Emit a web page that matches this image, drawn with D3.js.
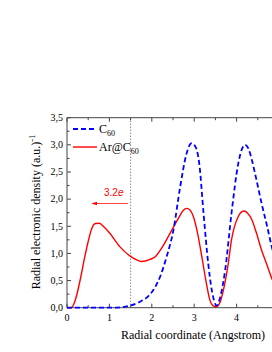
<!DOCTYPE html>
<html>
<head>
<meta charset="utf-8">
<script src="https://cdn.jsdelivr.net/npm/d3@7"></script>
<style>
  body { margin: 0; background: #fff; }
  svg { display: block; }
</style>
</head>
<body>
<div id="chart"></div>
<script>
// values
var c60X = [0, 0.5, 1.0, 1.3, 1.5, 1.72, 1.9, 2.04, 2.2, 2.35, 2.51, 2.67, 2.82, 2.94, 3.04, 3.12, 3.22, 3.33, 3.42, 3.53, 3.63, 3.73, 3.88, 4.04, 4.13, 4.2, 4.28, 4.36, 4.47, 4.59, 4.72, 4.83, 4.95];
var c60Y = [0, 0, 0, 0.01, 0.04, 0.11, 0.2, 0.33, 0.58, 0.94, 1.43, 2.23, 2.84, 3.03, 2.95, 2.65, 1.74, 0.82, 0.3, 0.04, 0.25, 0.69, 1.74, 2.66, 2.93, 3.0, 2.93, 2.72, 2.35, 1.92, 1.5, 1.12, 0.8];
var arX = [0, 0.1, 0.2, 0.31, 0.42, 0.5, 0.58, 0.67, 0.76, 0.88, 1.01, 1.25, 1.49, 1.62, 1.76, 1.96, 2.08, 2.25, 2.43, 2.63, 2.74, 2.82, 2.9, 2.98, 3.08, 3.18, 3.28, 3.37, 3.44, 3.53, 3.61, 3.69, 3.8, 3.88, 4.04, 4.11, 4.18, 4.26, 4.36, 4.47, 4.59, 4.72, 4.83, 4.95];
var arY = [0, 0.0, 0.15, 0.51, 0.94, 1.22, 1.45, 1.55, 1.555, 1.48, 1.37, 1.12, 0.95, 0.89, 0.85, 0.89, 0.94, 1.12, 1.37, 1.65, 1.79, 1.83, 1.8, 1.68, 1.37, 0.94, 0.48, 0.14, 0.04, 0.02, 0.1, 0.33, 0.8, 1.25, 1.68, 1.76, 1.78, 1.74, 1.62, 1.37, 1.06, 0.78, 0.54, 0.36];
var xTicks = [0, 1, 2, 3, 4];
var yTicks = [0, 0.5, 1, 1.5, 2, 2.5, 3, 3.5];
var seriesNames = ["C", "Ar@C"];
var markerX = 1.5;

var width = 272, height = 352;
var SERIF = "'Liberation Serif'";

var svg = d3.select('#chart').append('svg')
    .attr('width', width)
    .attr('height', height);

var x = d3.scaleLinear().domain([0, 5]).range([67, 279]);
var y = d3.scaleLinear().domain([0, 3.5]).range([307.7, 117.7]);

var axisColor = "#444";

// frame (top + left + bottom)
svg.append('line').attr('x1', x(0)).attr('x2', x(5)).attr('y1', y(0)).attr('y2', y(0))
    .attr('stroke', axisColor).attr('stroke-width', 1);
svg.append('line').attr('x1', x(0)).attr('x2', x(5)).attr('y1', y(3.5)).attr('y2', y(3.5))
    .attr('stroke', axisColor).attr('stroke-width', 1);
svg.append('line').attr('x1', x(0)).attr('x2', x(0)).attr('y1', y(0)).attr('y2', y(3.5))
    .attr('stroke', axisColor).attr('stroke-width', 1);

// x ticks, inward, bottom and top
var xMinor = d3.range(0, 5.01, 0.5);
xMinor.forEach(function(v) {
    var len = (v % 1 === 0) ? 4 : 2.5;
    svg.append('line').attr('x1', x(v)).attr('x2', x(v)).attr('y1', y(0)).attr('y2', y(0) - len)
        .attr('stroke', axisColor);
    svg.append('line').attr('x1', x(v)).attr('x2', x(v)).attr('y1', y(3.5)).attr('y2', y(3.5) + len)
        .attr('stroke', axisColor);
});
svg.selectAll('.xlab')
    .data(xTicks)
    .enter().append('text')
    .attr('x', function(d) { return x(d); })
    .attr('y', 321)
    .attr('text-anchor', 'middle')
    .style('font-family', SERIF)
    .style('font-size', '10px')
    .text(function(d) { return d; });

// y ticks
var yMinor = d3.range(0, 3.51, 0.25);
yMinor.forEach(function(v) {
    var len = (Math.abs(v * 2 - Math.round(v * 2)) < 1e-6) ? 4 : 2.5;
    svg.append('line').attr('x1', x(0)).attr('x2', x(0) + len).attr('y1', y(v)).attr('y2', y(v))
        .attr('stroke', axisColor);
});
svg.selectAll('.ylab')
    .data(yTicks)
    .enter().append('text')
    .attr('x', 63)
    .attr('y', function(d) { return y(d) + 3.3; })
    .attr('text-anchor', 'end')
    .style('font-family', SERIF)
    .style('font-size', '10px')
    .text(function(d) { return d3.format('.1f')(d).replace('.', ','); });

// dotted marker line
svg.append('line')
    .attr('x1', x(markerX)).attr('x2', x(markerX))
    .attr('y1', y(0)).attr('y2', y(3.5))
    .attr('stroke', '#555')
    .attr('stroke-width', 1)
    .attr('stroke-dasharray', '1,2');

// curves
var line = d3.line()
    .x(function(d) { return x(d[0]); })
    .y(function(d) { return y(d[1]); })
    .curve(d3.curveMonotoneX);

svg.append('clipPath').attr('id', 'clip')
    .append('rect').attr('x', x(0)).attr('y', y(3.5)).attr('width', x(5) - x(0)).attr('height', y(0) - y(3.5) + 2);

svg.append('path')
    .datum(arX.map(function(v, i) { return [v, arY[i]]; }))
    .attr('d', line)
    .attr('clip-path', 'url(#clip)')
    .attr('fill', 'none')
    .attr('stroke', '#ff0000')
    .attr('stroke-width', 1.4);

svg.append('path')
    .datum(c60X.map(function(v, i) { return [v, c60Y[i]]; }))
    .attr('d', line)
    .attr('clip-path', 'url(#clip)')
    .attr('fill', 'none')
    .attr('stroke', '#0000ff')
    .attr('stroke-width', 1.8)
    .attr('stroke-dasharray', '5,3');

// legend
var legend = svg.append('g');
legend.append('line').attr('x1', 73).attr('x2', 97).attr('y1', 129).attr('y2', 129)
    .attr('stroke', '#0000ff').attr('stroke-width', 1.8).attr('stroke-dasharray', '5,3');
legend.append('line').attr('x1', 73).attr('x2', 97).attr('y1', 147).attr('y2', 147)
    .attr('stroke', '#ff0000').attr('stroke-width', 1.4);
var t1 = legend.append('text').attr('x', 99).attr('y', 133)
    .style('font-family', SERIF).style('font-size', '12px');
t1.append('tspan').text(seriesNames[0]);
t1.append('tspan').attr('dy', 3).style('font-size', '8px').text('60');
var t2 = legend.append('text').attr('x', 99).attr('y', 151)
    .style('font-family', SERIF).style('font-size', '12px');
t2.append('tspan').text(seriesNames[1]);
t2.append('tspan').attr('dy', 3).style('font-size', '8px').text('60');

// arrow with label
svg.append('defs').append('marker')
    .attr('id', 'arr')
    .attr('viewBox', '0 0 10 10')
    .attr('refX', 1).attr('refY', 5)
    .attr('markerWidth', 6).attr('markerHeight', 6)
    .attr('orient', 'auto-start-reverse')
    .append('path').attr('d', 'M0,2 L10,5 L0,8 z').attr('fill', '#ff0000');
svg.append('line')
    .attr('x1', x(1.44)).attr('x2', x(0.7))
    .attr('y1', y(1.92)).attr('y2', y(1.92))
    .attr('stroke', '#ff4040').attr('stroke-width', 1)
    .attr('marker-end', 'url(#arr)');
var lab = svg.append('text').attr('x', 104).attr('y', 196)
    .style('font-family', "'Liberation Sans'")
    .style('font-size', '10px')
    .attr('fill', '#ff0000');
lab.append('tspan').text('3.2');
lab.append('tspan').style('font-style', 'italic').text('e');

// axis titles
svg.append('text')
    .attr('x', 193).attr('y', 339)
    .attr('text-anchor', 'middle')
    .style('font-family', SERIF)
    .style('font-size', '12px')
    .text('Radial coordinate (Angstrom)');

var yt = svg.append('text')
    .attr('transform', 'translate(40,212) rotate(-90)')
    .attr('text-anchor', 'middle')
    .style('font-family', SERIF)
    .style('font-size', '12px');
yt.append('tspan').text('Radial electronic density (a.u.)');
yt.append('tspan').attr('dy', -5).style('font-size', '8.5px').text('-1');
</script>
</body>
</html>
